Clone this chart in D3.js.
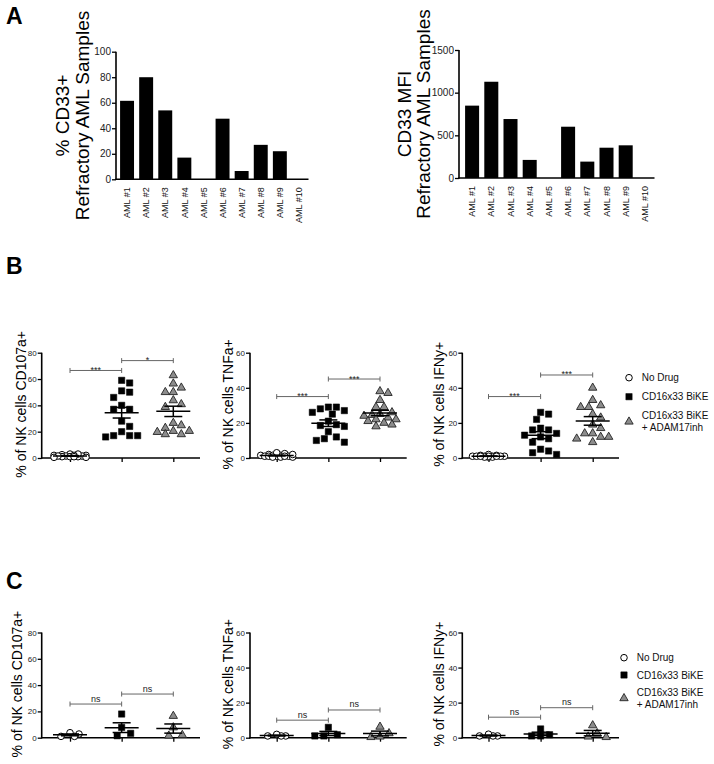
<!DOCTYPE html>
<html>
<head>
<meta charset="utf-8">
<script src="https://cdn.jsdelivr.net/npm/d3@7"></script>
<style>
  body { margin: 0; background: #fff; }
  svg { font-family: Arial, "Liberation Sans", Helvetica, sans-serif; }
</style>
</head>
<body>
<script>
// ---- panel A data ----
var amlSamples = ["AML #1", "AML #2", "AML #3", "AML #4", "AML #5",
                  "AML #6", "AML #7", "AML #8", "AML #9", "AML #10"];
var cd33Percent = [61.5, 80, 54, 17, 0, 47.5, 6.5, 27, 22, 0];
var cd33Mfi = [848, 1128, 691, 212, 0, 601, 192, 355, 383, 0];
var pctTicks = [0, 20, 40, 60, 80, 100];
var mfiTicks = [0, 500, 1000, 1500];

// ---- groups / legend ----
var groups = ["No Drug", "CD16x33 BiKE", "CD16x33 BiKE + ADAM17inh"];
var legendLines = [["No Drug"], ["CD16x33 BiKE"], ["CD16x33 BiKE", "+ ADAM17inh"]];

// ---- panel B data (% of NK cells) ----
var bCd107aNoDrug = [3, 2.5, 2, 2, 1.5, 1.5, 1, 1, 1, 0.5, 3, 2, 1.5, 1, 0.5];
var bCd107aBike = [59, 57, 51, 50, 46, 40, 37, 37, 28, 24, 20, 17, 17, 16, 17];
var bCd107aAdam = [62.8, 56.5, 53.4, 50, 50, 43.8, 40.8, 38.7, 26.6, 24.8, 22.8, 20.5, 20.5, 19.7, 18, 18];
var bCd107aSig = ["***", "*"];
var bCd107aSigAt = [66.5, 74];

var bTnfNoDrug = [1, 1.5, 2, 1, 0.5, 1.5, 2.5, 1, 0.5, 1, 2, 1.5, 3, 1, 0.5];
var bTnfBike = [29, 29, 28, 27, 26, 25, 21, 19, 18.5, 18, 15, 12, 11, 10, 9];
var bTnfAdam = [38, 37, 33, 29, 29, 26, 25, 24.5, 24, 23, 22, 22, 21, 20, 19, 18];
var bTnfSig = ["***", "***"];
var bTnfSigAt = [35, 45];

var bIfnNoDrug = [1, 1, 1.5, 0.5, 1, 1, 2, 1, 0.5, 1, 1.5, 1, 1, 0.5, 1];
var bIfnBike = [26, 25, 22, 17, 16, 16, 14, 13, 12, 11, 9, 5, 4, 3, 2];
var bIfnAdam = [40, 33, 30, 29, 29, 25, 23, 19, 17, 14, 14, 12, 12, 11, 9];
var bIfnSig = ["***", "***"];
var bIfnSigAt = [35, 47.3];

// ---- panel C data ----
var cCd107aNoDrug = [2.8, 1, 1, 3.8];
var cCd107aBike = [18, 7.8, 1.5, 3.3];
var cCd107aAdam = [16.5, 7.8, 1.5, 2];
var cCd107aSig = ["ns", "ns"];
var cCd107aSigAt = [25.6, 33.2];

var cTnfNoDrug = [1, 1, 1, 1.9];
var cTnfBike = [1.7, 1, 1, 5.9];
var cTnfAdam = [2.5, 6.2, 0.3, 0.6];
var cTnfSig = ["ns", "ns"];
var cTnfSigAt = [10, 15.8];

var cIfnNoDrug = [1, 1, 1, 2];
var cIfnBike = [1.7, 1, 1, 5];
var cIfnAdam = [2.5, 7, 0.3, 0.6];
var cIfnSig = ["ns", "ns"];
var cIfnSigAt = [11.7, 17.1];

var ticks80 = [0, 20, 40, 60, 80];
var ticks60 = [0, 20, 40, 60];

var svg = d3.select("body")
            .append("svg")
            .attr("width", 714)
            .attr("height", 764);

// panel letters
svg.selectAll(".panelLetter")
   .data([["A", 23.5], ["B", 273.5], ["C", 588.5]])
   .enter()
   .append("text")
   .attr("class", "panelLetter")
   .attr("x", 6)
   .attr("y", function(d){ return d[1]; })
   .style("font-size", "23px")
   .style("font-weight", "bold")
   .text(function(d){ return d[0]; });

// styles the axis of a chart
const styleAxis = function(g, fontSize){
    g.select(".domain").remove();
    g.selectAll(".tick line").attr("stroke", "#000").attr("stroke-width", 1.3);
    g.selectAll(".tick text")
     .style("font-size", fontSize + "px")
     .style("font-family", "Arial, 'Liberation Sans', sans-serif")
     .attr("fill", "#222");
};

// ---- bar charts (panel A) ----
const makeBarChart = function(cfg, values, ticks, maxVal){
    var x = d3.scaleBand()
              .domain(amlSamples)
              .range([cfg.x0, cfg.x1])
              .paddingInner(0.27)
              .paddingOuter(0.135);
    var y = d3.scaleLinear()
              .domain([0, maxVal])
              .range([cfg.bottom, cfg.top]);

    svg.append("g")
       .selectAll("rect")
       .data(values)
       .enter()
       .append("rect")
       .attr("x", function(d, i){ return x(amlSamples[i]); })
       .attr("width", x.bandwidth())
       .attr("y", function(d){ return y(d); })
       .attr("height", function(d){ return y(0) - y(d); })
       .attr("fill", "#000");

    var yAxis = svg.append("g")
                   .attr("transform", "translate(" + cfg.axisX + ",0)")
                   .call(d3.axisLeft(y).tickValues(ticks).tickSize(4).tickPadding(1)
                           .tickFormat(d3.format("d")));
    styleAxis(yAxis, 10);
    svg.append("line")
       .attr("x1", cfg.axisX).attr("x2", cfg.axisX)
       .attr("y1", y(maxVal)).attr("y2", y(0) + 0.7)
       .attr("stroke", "#000").attr("stroke-width", 1.6);
    svg.append("line")
       .attr("x1", cfg.axisX - 0.7).attr("x2", cfg.x1)
       .attr("y1", y(0)).attr("y2", y(0))
       .attr("stroke", "#000").attr("stroke-width", 1.6);

    // rotated category labels
    svg.append("g")
       .selectAll("text")
       .data(amlSamples)
       .enter()
       .append("text")
       .attr("transform", function(d){
           return "translate(" + (x(d) + x.bandwidth() / 2) + "," + (y(0) + 8) + ") rotate(-90)";
       })
       .attr("dy", "0.35em")
       .style("text-anchor", "end")
       .style("font-size", "9px")
       .attr("fill", "#111")
       .text(function(d){ return d; });

    // two-line axis title
    var title = svg.append("text")
                   .attr("transform", "rotate(-90)")
                   .style("text-anchor", "middle")
                   .style("font-size", "19px");
    cfg.title.forEach(function(line, i){
        title.append("tspan")
             .attr("x", -(cfg.top + cfg.bottom) / 2)
             .attr("y", cfg.titleX[i])
             .text(line);
    });
};

makeBarChart({x0: 117.5, x1: 308.5, axisX: 116, top: 51.7, bottom: 179.3,
              title: ["% CD33+", "Refractory AML Samples"], titleX: [69, 89]},
             cd33Percent, pctTicks, 100);
makeBarChart({x0: 462.5, x1: 654.5, axisX: 459, top: 50, bottom: 178,
              title: ["CD33 MFI", "Refractory AML Samples"], titleX: [411, 430]},
             cd33Mfi, mfiTicks, 1500);

// ---- scatter charts (panels B and C) ----
// places points side by side when they would overlap
const beeswarm = function(values, yScale, cx, gap, maxW){
    var pts = values.map(function(v){ return {v: v, y: yScale(v)}; });
    var order = pts.slice().sort(function(a, b){ return a.y - b.y; });
    var offsets = [0];
    for (var k = 1; k * gap / 2 <= maxW; k++){
        offsets.push(k * gap / 2, -k * gap / 2);
    }
    var placed = [];
    for (var p of order){
        var best = 0, bestD = -1;
        for (var off of offsets){
            var d = placed.length ? d3.min(placed, function(q){
                        return Math.hypot(q.x - (cx + off), q.y - p.y);
                    }) : Infinity;
            if (d >= gap){ best = off; break; }
            if (d > bestD){ bestD = d; best = off; }
        }
        p.x = cx + best;
        placed.push(p);
    }
    return pts;
};

var markers = [
    {type: d3.symbolCircle, size: 34, fill: "#fff", stroke: "#000", sw: 1},
    {type: d3.symbolSquare, size: 40, fill: "#000", stroke: "#000", sw: 0.5},
    {type: d3.symbolTriangle, size: 30, fill: "#8c8c8c", stroke: "#222", sw: 0.9}
];

const drawMarker = function(g, m, x, y){
    g.append("path")
     .attr("d", d3.symbol().type(m.type).size(m.size)())
     .attr("transform", "translate(" + x + "," + y + ")")
     .attr("fill", m.fill)
     .attr("stroke", m.stroke)
     .attr("stroke-width", m.sw);
};

const makeScatter = function(cfg, series, ticks, maxVal, sigLabels, sigAt){
    var x = d3.scalePoint()
              .domain(groups)
              .range([cfg.g0, cfg.g2]);
    var y = d3.scaleLinear()
              .domain([0, maxVal])
              .range([cfg.bottom, cfg.top]);

    var yAxis = svg.append("g")
                   .attr("transform", "translate(" + cfg.axisX + ",0)")
                   .call(d3.axisLeft(y).tickValues(ticks).tickSize(4).tickPadding(1));
    styleAxis(yAxis, 8);
    var xAxis = svg.append("g")
                   .attr("transform", "translate(0," + cfg.bottom + ")")
                   .call(d3.axisBottom(x).tickSize(4).tickFormat(""));
    styleAxis(xAxis, 8);
    svg.append("line")
       .attr("x1", cfg.axisX).attr("x2", cfg.axisX)
       .attr("y1", cfg.top).attr("y2", cfg.bottom + 0.7)
       .attr("stroke", "#000").attr("stroke-width", 1.6);
    svg.append("line")
       .attr("x1", cfg.axisX - 0.7).attr("x2", cfg.axisEnd)
       .attr("y1", cfg.bottom).attr("y2", cfg.bottom)
       .attr("stroke", "#000").attr("stroke-width", 1.6);

    // axis title
    svg.append("text")
       .attr("transform", "rotate(-90)")
       .attr("x", -(cfg.top + cfg.bottom) / 2 + 1)
       .attr("y", cfg.labelX)
       .style("text-anchor", "middle")
       .style("font-size", "14px")
       .text(cfg.label);

    // significance brackets
    sigLabels.forEach(function(lab, i){
        var x1 = x(groups[i]), x2 = x(groups[i + 1]), yy = y(sigAt[i]);
        var b = svg.append("g").attr("stroke", "#666").attr("stroke-width", 1);
        b.append("line").attr("x1", x1).attr("x2", x2).attr("y1", yy).attr("y2", yy);
        b.append("line").attr("x1", x1).attr("x2", x1).attr("y1", yy - 2.5).attr("y2", yy + 2.5);
        b.append("line").attr("x1", x2).attr("x2", x2).attr("y1", yy - 2.5).attr("y2", yy + 2.5);
        svg.append("text")
           .attr("x", (x1 + x2) / 2)
           .attr("y", lab == "ns" ? yy - 2.5 : yy + 2.5)
           .style("text-anchor", "middle")
           .style("font-size", "9px")
           .attr("fill", "#222")
           .text(lab);
    });

    // points, mean and SEM for each group
    series.forEach(function(vals, gi){
        var cx = x(groups[gi]);
        var g = svg.append("g");
        var pts = beeswarm(vals, y, cx, cfg.gap, 17);
        pts.forEach(function(p){ drawMarker(g, markers[gi], p.x, p.y); });

        var mean = d3.mean(vals);
        var sem = d3.deviation(vals) / Math.sqrt(vals.length);
        var s = svg.append("g").attr("stroke", "#000").attr("stroke-width", 1.5);
        s.append("line").attr("x1", cx - 17).attr("x2", cx + 17)
         .attr("y1", y(mean)).attr("y2", y(mean));
        s.append("line").attr("x1", cx).attr("x2", cx)
         .attr("y1", y(mean - sem)).attr("y2", y(mean + sem));
        [mean - sem, mean + sem].forEach(function(v){
            s.append("line").attr("x1", cx - 9).attr("x2", cx + 9)
             .attr("y1", y(v)).attr("y2", y(v));
        });
    });
};

const makeLegend = function(lx, tx, ys){
    var g = svg.append("g");
    legendLines.forEach(function(lines, i){
        var yc = ys[i];
        drawMarker(g, markers[i], lx, yc);
        var t = g.append("text")
                 .attr("x", tx)
                 .style("font-size", "10px")
                 .attr("fill", "#111");
        lines.forEach(function(line, j){
            t.append("tspan")
             .attr("x", tx)
             .attr("y", yc + 3.5 + (j - (lines.length - 1) / 2) * 11.5)
             .text(line);
        });
    });
};

var bTop = 352.7, bBottom = 458, cTop = 632.5, cBottom = 737.7;

makeScatter({axisX: 41.7, axisEnd: 200, g0: 70, g2: 173.3, top: bTop, bottom: bBottom,
             labelX: 25.5, label: "% of NK cells CD107a+", gap: 8},
            [bCd107aNoDrug, bCd107aBike, bCd107aAdam], ticks80, 80, bCd107aSig, bCd107aSigAt);
makeScatter({axisX: 250, axisEnd: 406.7, g0: 276.7, g2: 380, top: bTop, bottom: bBottom,
             labelX: 233, label: "% of NK cells TNFa+", gap: 8},
            [bTnfNoDrug, bTnfBike, bTnfAdam], ticks60, 60, bTnfSig, bTnfSigAt);
makeScatter({axisX: 462.3, axisEnd: 619, g0: 488.5, g2: 592.7, top: bTop, bottom: bBottom,
             labelX: 444, label: "% of NK cells IFNy+", gap: 8},
            [bIfnNoDrug, bIfnBike, bIfnAdam], ticks60, 60, bIfnSig, bIfnSigAt);
makeLegend(629, 641.7, [377.7, 396.7, 421.7]);

makeScatter({axisX: 41.7, axisEnd: 200, g0: 70, g2: 173.3, top: cTop, bottom: cBottom,
             labelX: 22, label: "% of NK cells CD107a+", gap: 9},
            [cCd107aNoDrug, cCd107aBike, cCd107aAdam], ticks80, 80, cCd107aSig, cCd107aSigAt);
makeScatter({axisX: 250, axisEnd: 406.7, g0: 276.7, g2: 380, top: cTop, bottom: cBottom,
             labelX: 233, label: "% of NK cells TNFa+", gap: 9},
            [cTnfNoDrug, cTnfBike, cTnfAdam], ticks60, 60, cTnfSig, cTnfSigAt);
makeScatter({axisX: 462.3, axisEnd: 619, g0: 488.5, g2: 592.7, top: cTop, bottom: cBottom,
             labelX: 444, label: "% of NK cells IFNy+", gap: 9},
            [cIfnNoDrug, cIfnBike, cIfnAdam], ticks60, 60, cIfnSig, cIfnSigAt);
makeLegend(624, 636.7, [657.7, 675, 698.3]);
</script>
</body>
</html>
